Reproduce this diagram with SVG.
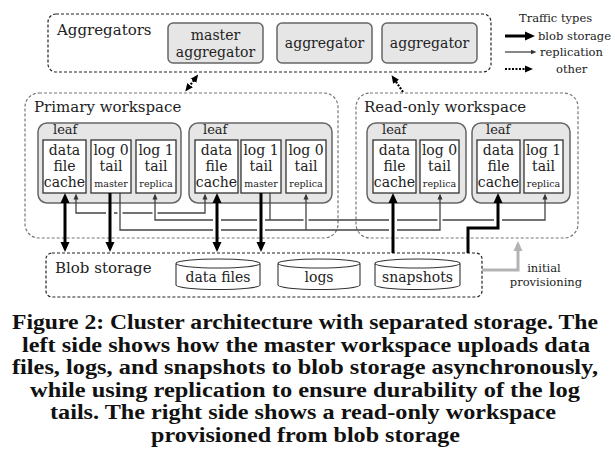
<svg xmlns="http://www.w3.org/2000/svg" width="615" height="474" viewBox="0 0 615 474">
<style>
text{font-family:"DejaVu Serif","Liberation Serif",serif;fill:#222}
.grp{fill:none;stroke:#222;stroke-width:1.2;stroke-dasharray:3,2}
.ws{fill:none;stroke:#777;stroke-width:1.2;stroke-dasharray:3,2}
.box{fill:#e6e6e6;stroke:#666;stroke-width:1.5}
.in{fill:#fff;stroke:#333;stroke-width:1.3}
.cyl{fill:#fff;stroke:#333;stroke-width:1.1}
.lbl{font-size:15px}
.t14{font-size:14px;text-anchor:middle}
.sm{font-size:9.5px;text-anchor:middle}
.leafl{font-size:13px}
.leg{font-size:11.5px}
.thick{fill:none;stroke:#000;stroke-width:3}
.thin{fill:none;stroke:#444;stroke-width:1.3}
.dot{fill:none;stroke:#000;stroke-width:2.2;stroke-dasharray:2,1.5}
.halo{stroke:#fff;stroke-width:5}
.haloT{stroke:#fff;stroke-width:8}
.cap{font-family:"Liberation Serif","DejaVu Serif",serif;font-weight:bold;font-size:20px;fill:#111}
</style>
<defs>
<marker id="hT" markerUnits="userSpaceOnUse" markerWidth="10" markerHeight="10" refX="1" refY="5" orient="auto-start-reverse" viewBox="0 0 10 10"><path d="M0,0.5 L10,5 L0,9.5 z" fill="#000"/></marker>
<marker id="ht" markerUnits="userSpaceOnUse" markerWidth="6" markerHeight="6" refX="0.5" refY="3" orient="auto-start-reverse" viewBox="0 0 6 6"><path d="M0,0.5 L6,3 L0,5.5 z" fill="#333"/></marker>
<marker id="hd" markerUnits="userSpaceOnUse" markerWidth="8" markerHeight="8" refX="1" refY="4" orient="auto-start-reverse" viewBox="0 0 8 8"><path d="M0,0.5 L8,4 L0,7.5 z" fill="#000"/></marker>
<marker id="hg" markerUnits="userSpaceOnUse" markerWidth="10" markerHeight="10" refX="1" refY="5" orient="auto" viewBox="0 0 10 10"><path d="M0,0.5 L10,5 L0,9.5 z" fill="#b3b3b3"/></marker>
</defs>

<!-- Aggregators group -->
<g id="aggregators">
<rect class="grp" x="48" y="14" width="443" height="58" rx="8"/>
<text class="lbl" x="57" y="35">Aggregators</text>
</g>
<g id="master-aggregator">
<rect class="box" x="168" y="23" width="95" height="40" rx="5"/>
<text class="t14" x="215.5" y="40">master</text>
<text class="t14" x="215.5" y="57">aggregator</text>
</g>
<g id="aggregator-2">
<rect class="box" x="277" y="23" width="95" height="40" rx="5"/>
<text class="t14" x="324.5" y="48">aggregator</text>
</g>
<g id="aggregator-3">
<rect class="box" x="382" y="23" width="95" height="40" rx="5"/>
<text class="t14" x="429.5" y="48">aggregator</text>
</g>

<!-- Legend -->
<g id="legend">
<text class="leg" x="519" y="22">Traffic types</text>
<line class="thick" x1="505" y1="36" x2="526" y2="36" marker-end="url(#hT)"/>
<text class="leg" x="538" y="40">blob storage</text>
<line class="thin" stroke="#333" x1="505" y1="52" x2="531" y2="52" marker-end="url(#ht)"/>
<text class="leg" x="540" y="56">replication</text>
<line class="dot" stroke-width="1.8" x1="505" y1="69" x2="526" y2="69" marker-end="url(#hd)"/>
<text class="leg" x="556" y="73">other</text>
</g>

<!-- Workspaces -->
<g id="primary-workspace">
<rect class="ws" x="25" y="93" width="313" height="145" rx="14"/>
<text class="lbl" x="34" y="112">Primary workspace</text>
</g>
<g id="readonly-workspace">
<rect class="ws" x="356" y="93" width="222" height="145" rx="14"/>
<text class="lbl" x="364" y="112">Read-only workspace</text>
</g>

<!-- Primary leaf 1 -->
<g id="leaf-p1">
<rect class="box" x="38" y="123" width="143" height="80" rx="9"/>
<text class="leafl" x="53" y="134">leaf</text>
<rect class="in" x="43" y="140" width="43" height="53"/>
<text class="t14" x="64.5" y="155">data</text>
<text class="t14" x="64.5" y="171">file</text>
<text class="t14" x="64.5" y="187">cache</text>
<rect class="in" x="91" y="140" width="40" height="53"/>
<text class="t14" x="111" y="155">log 0</text>
<text class="t14" x="111" y="171">tail</text>
<text class="sm" x="111" y="187">master</text>
<rect class="in" x="136" y="140" width="40" height="53"/>
<text class="t14" x="156" y="155">log 1</text>
<text class="t14" x="156" y="171">tail</text>
<text class="sm" x="156" y="187">replica</text>
</g>

<!-- Primary leaf 2 -->
<g id="leaf-p2">
<rect class="box" x="189" y="123" width="143" height="80" rx="9"/>
<text class="leafl" x="203" y="134">leaf</text>
<rect class="in" x="195" y="140" width="43" height="53"/>
<text class="t14" x="216.5" y="155">data</text>
<text class="t14" x="216.5" y="171">file</text>
<text class="t14" x="216.5" y="187">cache</text>
<rect class="in" x="241" y="140" width="40" height="53"/>
<text class="t14" x="261" y="155">log 1</text>
<text class="t14" x="261" y="171">tail</text>
<text class="sm" x="261" y="187">master</text>
<rect class="in" x="286" y="140" width="40" height="53"/>
<text class="t14" x="306" y="155">log 0</text>
<text class="t14" x="306" y="171">tail</text>
<text class="sm" x="306" y="187">replica</text>
</g>

<!-- Read-only leaf 1 -->
<g id="leaf-r1">
<rect class="box" x="367" y="123" width="99" height="80" rx="9"/>
<text class="leafl" x="382" y="134">leaf</text>
<rect class="in" x="373" y="140" width="43" height="53"/>
<text class="t14" x="394.5" y="155">data</text>
<text class="t14" x="394.5" y="171">file</text>
<text class="t14" x="394.5" y="187">cache</text>
<rect class="in" x="420" y="140" width="39" height="53"/>
<text class="t14" x="439.5" y="155">log 0</text>
<text class="t14" x="439.5" y="171">tail</text>
<text class="sm" x="439.5" y="187">replica</text>
</g>

<!-- Read-only leaf 2 -->
<g id="leaf-r2">
<rect class="box" x="472" y="123" width="98" height="80" rx="9"/>
<text class="leafl" x="486" y="134">leaf</text>
<rect class="in" x="477" y="140" width="43" height="53"/>
<text class="t14" x="498.5" y="155">data</text>
<text class="t14" x="498.5" y="171">file</text>
<text class="t14" x="498.5" y="187">cache</text>
<rect class="in" x="524" y="140" width="39" height="53"/>
<text class="t14" x="543.5" y="155">log 1</text>
<text class="t14" x="543.5" y="171">tail</text>
<text class="sm" x="543.5" y="187">replica</text>
</g>

<!-- Blob storage -->
<g id="blob-storage">
<rect class="grp" x="46" y="253" width="436" height="44" rx="6"/>
<text class="lbl" x="55" y="273">Blob storage</text>
</g>
<g id="data-files">
<path class="cyl" d="M176,263.5 V285 A42,4.5 0 0 0 260,285 V263.5 A42,4.5 0 0 0 176,263.5 A42,4.5 0 0 0 260,263.5"/>
<text class="t14" x="218" y="282">data files</text>
</g>
<g id="logs">
<path class="cyl" d="M278,263.5 V285 A41,4.5 0 0 0 360,285 V263.5 A41,4.5 0 0 0 278,263.5 A41,4.5 0 0 0 360,263.5"/>
<text class="t14" x="319" y="282">logs</text>
</g>
<g id="snapshots">
<path class="cyl" d="M375,263.5 V285 A42.5,4.5 0 0 0 460,285 V263.5 A42.5,4.5 0 0 0 375,263.5 A42.5,4.5 0 0 0 460,263.5"/>
<text class="t14" x="417.5" y="282">snapshots</text>
</g>

<!-- Connectors -->
<g id="connectors">
<!-- other traffic -->
<line class="dot" x1="194" y1="80" x2="189.5" y2="86" marker-start="url(#hd)" marker-end="url(#hd)"/>
<line class="dot" x1="403" y1="92" x2="395.5" y2="81" marker-end="url(#hd)"/>

<!-- replication -->
<path class="thin" d="M76,199 V213 H205 V199" marker-start="url(#ht)" marker-end="url(#ht)"/>
<line class="halo" x1="155" y1="210" x2="155" y2="216"/>
<line class="halo" x1="120" y1="210" x2="120" y2="216"/>
<path class="thin" d="M155,199 V220 H545 V199" marker-start="url(#ht)" marker-end="url(#ht)"/>
<path class="thin" d="M270,193 V220"/>
<line class="halo" x1="440" y1="217" x2="440" y2="223"/>
<line class="halo" x1="306" y1="217" x2="306" y2="223"/>
<path class="thin" d="M120,193 V230 H440 V199" marker-end="url(#ht)"/>
<path class="thin" d="M306,230 V199" marker-end="url(#ht)"/>

<!-- blob storage traffic -->
<line class="haloT" x1="110" y1="209" x2="110" y2="217"/>
<line class="haloT" x1="217" y1="216" x2="217" y2="234"/>
<line class="haloT" x1="261" y1="216" x2="261" y2="234"/>
<line class="haloT" x1="393" y1="216" x2="393" y2="234"/>
<line class="haloT" x1="498" y1="216" x2="498" y2="224"/>
<line class="thick" x1="65" y1="202" x2="65" y2="243" marker-start="url(#hT)" marker-end="url(#hT)"/>
<line class="thick" x1="110" y1="193" x2="110" y2="243" marker-end="url(#hT)"/>
<line class="thick" x1="217" y1="202" x2="217" y2="243" marker-start="url(#hT)" marker-end="url(#hT)"/>
<line class="thick" x1="261" y1="193" x2="261" y2="243" marker-end="url(#hT)"/>
<line class="thick" x1="393" y1="253" x2="393" y2="202" marker-end="url(#hT)"/>
<path class="thick" d="M468,253 V228 H498 V202" marker-end="url(#hT)"/>

<!-- initial provisioning -->
<path d="M482,270 H518 V250" fill="none" stroke="#b3b3b3" stroke-width="3" marker-end="url(#hg)"/>
</g>
<text class="leg" x="544" y="272" text-anchor="middle">initial</text>
<text class="leg" x="546" y="286" text-anchor="middle">provisioning</text>

<!-- Caption -->
<g id="caption">
<text class="cap" x="12" y="329" textLength="586" lengthAdjust="spacingAndGlyphs">Figure 2: Cluster architecture with separated storage. The</text>
<text class="cap" x="22" y="351.5" textLength="568" lengthAdjust="spacingAndGlyphs">left side shows how the master workspace uploads data</text>
<text class="cap" x="12" y="374" textLength="586" lengthAdjust="spacingAndGlyphs">files, logs, and snapshots to blob storage asynchronously,</text>
<text class="cap" x="30" y="396.5" textLength="550" lengthAdjust="spacingAndGlyphs">while using replication to ensure durability of the log</text>
<text class="cap" x="50" y="419" textLength="506" lengthAdjust="spacingAndGlyphs">tails. The right side shows a read-only workspace</text>
<text class="cap" x="151" y="441.5" textLength="309" lengthAdjust="spacingAndGlyphs">provisioned from blob storage</text>
</g>
</svg>
